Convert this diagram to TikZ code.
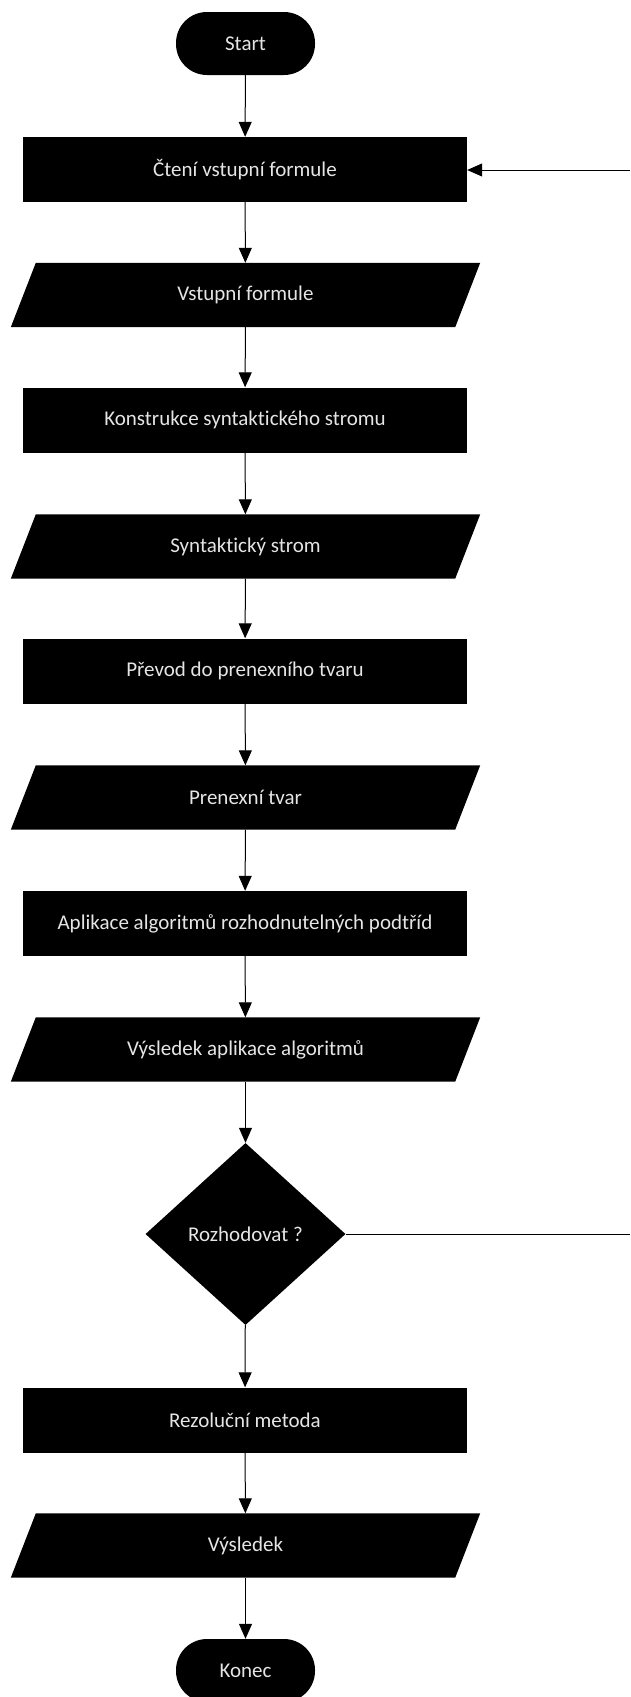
\documentclass[tikz,border=0pt]{standalone}
\usepackage{fontspec}
\setmainfont{Carlito}[Ligatures=NoCommon]
\usetikzlibrary{shapes.geometric,arrows.meta,backgrounds}
\begin{document}
\begin{tikzpicture}[x=1pt,y=1pt,
  base/.style={text=white!90!black,font=\fontsize{21}{25}\selectfont,inner sep=2pt},
  term/.style={base,fill=black,rectangle,rounded corners=31pt,minimum width=139pt,minimum height=63pt},
  proc/.style={base,fill=black,rectangle,minimum width=444pt,minimum height=65pt},
  io/.style={base,rectangle,minimum width=444pt,minimum height=64pt},
  iofill/.style={fill=black},
  dec/.style={base,fill=black,diamond,minimum width=200pt,minimum height=182pt},
  arr/.style={draw=black,line width=1pt,-{Triangle[width=13pt,length=15pt]}},
  ln/.style={draw=black,line width=1pt}
]
\useasboundingbox (0,0) rectangle (630,-1697);
\node[term] (start) at (245.5,-43.5) {Start};
\node[proc] (cteni) at (245,-169.5) {Čtení vstupní formule};
\node[io] (vstup) at (245.5,-295) {Vstupní formule};
\node[proc] (konstr) at (245,-420) {Konstrukce syntaktického stromu};
\node[io] (strom) at (245.5,-546.5) {Syntaktický strom};
\node[proc] (prevod) at (245,-671) {Převod do prenexního tvaru};
\node[io] (prenex) at (245.5,-797.5) {Prenexní tvar};
\node[proc] (aplik) at (245,-923.5) {Aplikace algoritmů rozhodnutelných podtříd};
\node[io] (vysapl) at (245.5,-1049.5) {Výsledek aplikace algoritmů};
\node[dec] (rozh) at (245.5,-1234) {Rozhodovat ?};
\node[proc] (rezol) at (245,-1420) {Rezoluční metoda};
\node[io] (vysl) at (245.5,-1545.5) {Výsledek};
\node[term] (konec) at (245.5,-1670.5) {Konec};
\coordinate (rtop) at (630,-170);
\coordinate (rbot) at (630,-1234);

\begin{scope}[on background layer]
\foreach \n in {vstup,strom,prenex,vysapl,vysl}
  \fill[iofill] ([xshift=12.5pt]\n.north west) -- ([xshift=12.5pt]\n.north east)
     -- ([xshift=-12.5pt]\n.south east) -- ([xshift=-12.5pt]\n.south west) -- cycle;
\end{scope}

\draw[arr] (start) -- (cteni);
\draw[arr] (cteni) -- (vstup);
\draw[arr] (vstup) -- (konstr);
\draw[arr] (konstr) -- (strom);
\draw[arr] (strom) -- (prevod);
\draw[arr] (prevod) -- (prenex);
\draw[arr] (prenex) -- (aplik);
\draw[arr] (aplik) -- (vysapl);
\draw[arr] (vysapl) -- (rozh);
\draw[arr] (rozh) -- (rezol);
\draw[arr] (rezol) -- (vysl);
\draw[arr] (vysl) -- (konec);
\draw[ln] (rozh.east) -- (rbot);
\draw[arr] (rtop) -- (cteni.east |- rtop);
\end{tikzpicture}
\end{document}
